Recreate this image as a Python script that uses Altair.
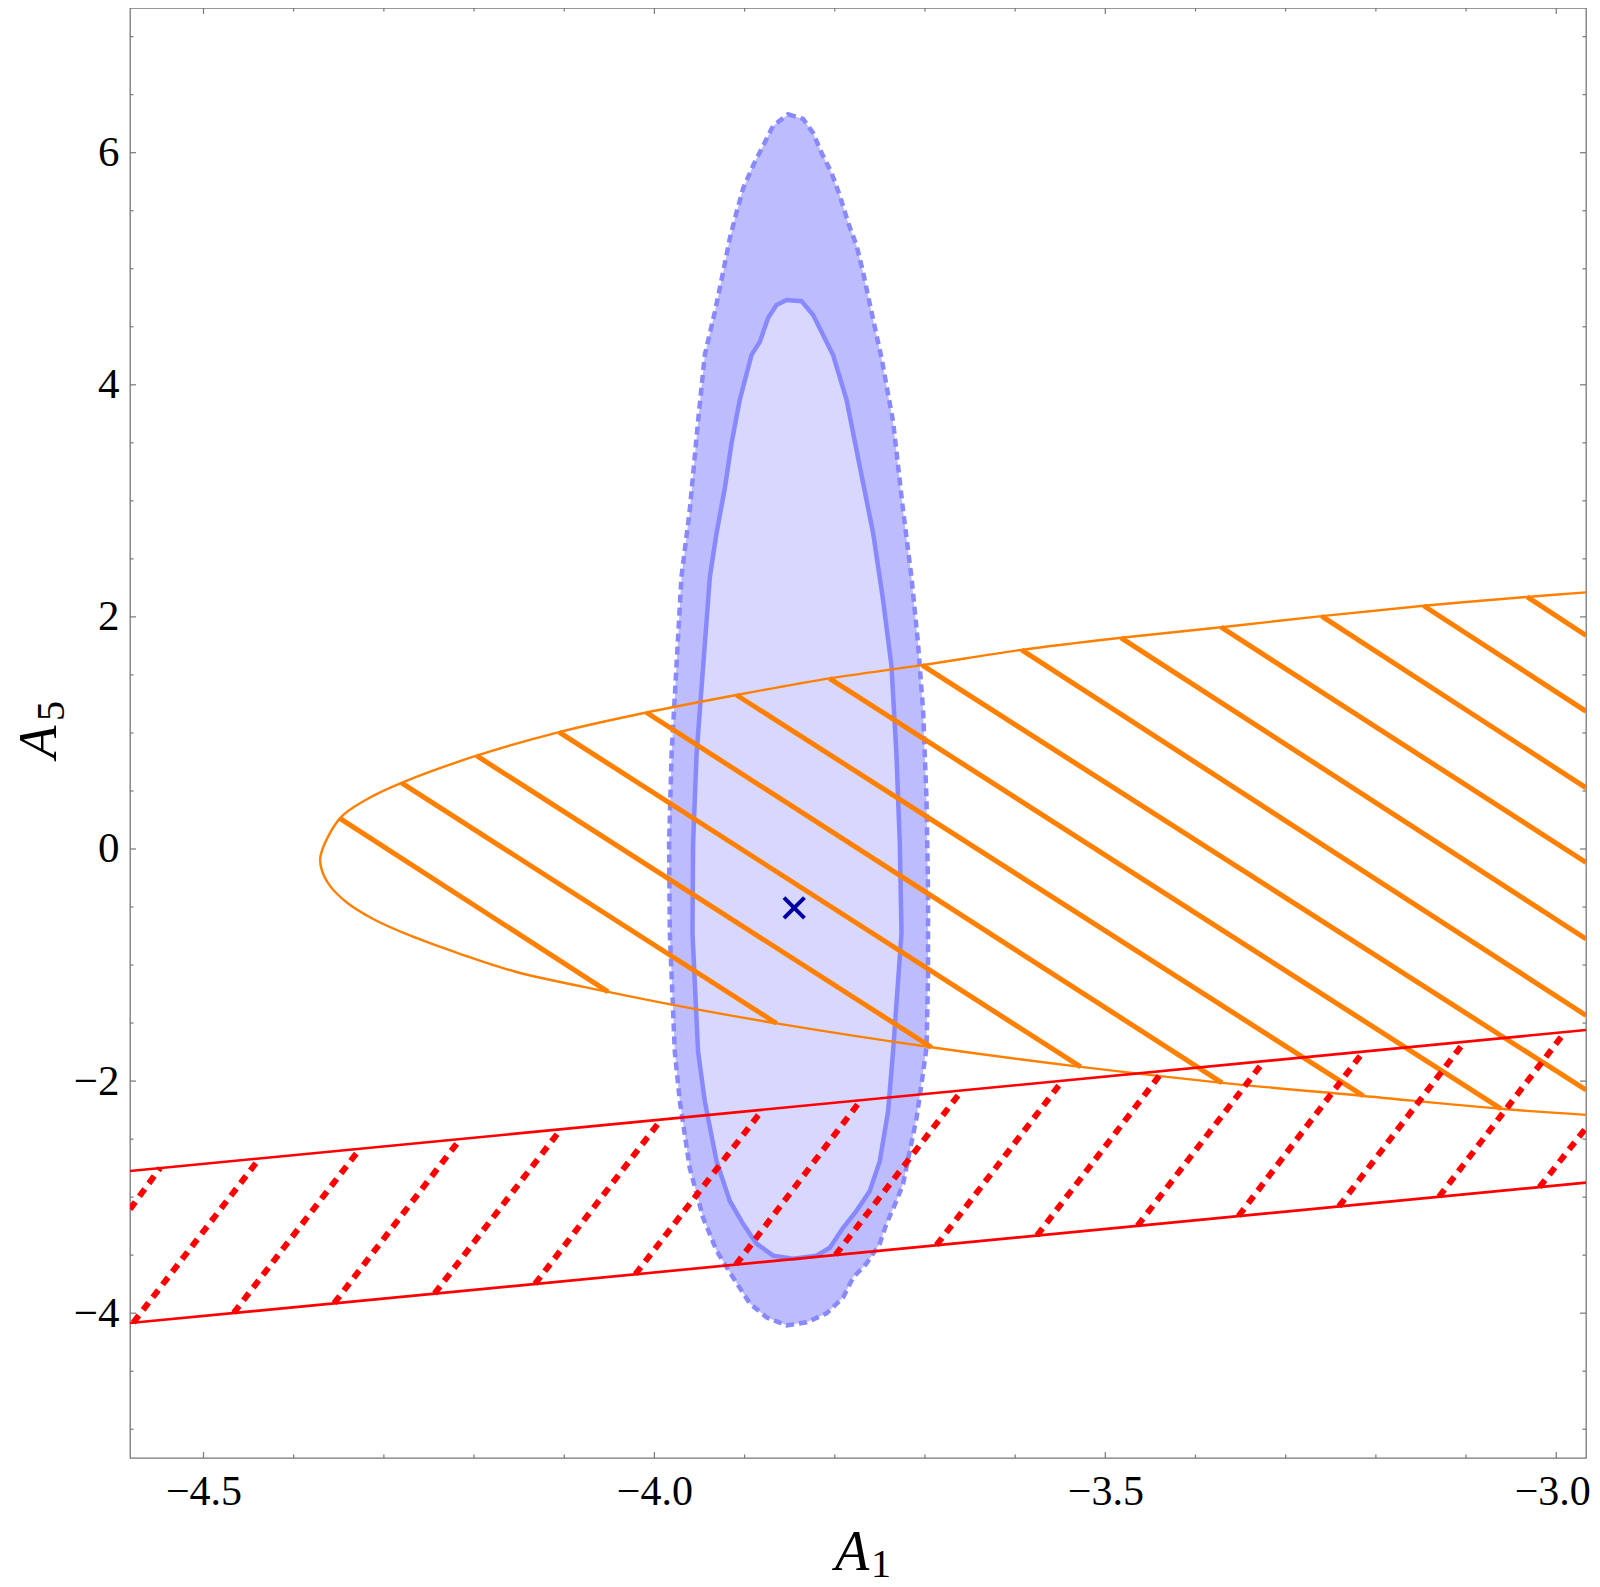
import altair as alt
import pandas as pd

# ---------------- data ----------------
X_MIN, X_MAX = -4.5815, -2.967
Y_MIN, Y_MAX = -5.248, 7.247

# outer (2 sigma) blue region, clockwise from the top
outer_x = [-3.8518, -3.8351, -3.8241, -3.8147, -3.8037, -3.7944, -3.7853, -3.7759, -3.7686, -3.7593,
           -3.7482, -3.7354, -3.7243, -3.7150, -3.7077, -3.7021, -3.6983, -3.6966, -3.6966, -3.6983,
           -3.7039, -3.7094, -3.7169, -3.7243, -3.7316, -3.7427, -3.7501, -3.7649, -3.7797, -3.7908,
           -3.8092, -3.8314, -3.8536, -3.8757, -3.8942, -3.9128, -3.9311, -3.9460, -3.9608, -3.9718,
           -3.9774, -3.9829, -3.9837, -3.9810, -3.9755, -3.9700, -3.9608, -3.9516, -3.9441, -3.9330,
           -3.9238, -3.9164, -3.9090, -3.9017, -3.8906, -3.8795, -3.8684]
outer_y = [6.331, 6.291, 6.171, 5.999, 5.828, 5.630, 5.399, 5.201, 4.970, 4.627,
           4.232, 3.684, 2.920, 2.345, 1.771, 1.196, 0.433, -0.339, -1.102, -1.711,
           -2.029, -2.321, -2.604, -2.887, -3.032, -3.230, -3.401, -3.573, -3.693, -3.865,
           -4.002, -4.079, -4.105, -4.036, -3.916, -3.693, -3.461, -3.178, -2.749, -2.175,
           -1.746, -0.725, 0.047, 0.810, 1.582, 2.345, 2.920, 3.684, 4.258, 4.627,
           4.970, 5.261, 5.484, 5.690, 5.888, 6.059, 6.231]

# inner (1 sigma) blue region, clockwise from the top
inner_x = [-3.8535, -3.8369, -3.8240, -3.8092, -3.8019, -3.7870, -3.7723, -3.7575, -3.7465, -3.7371,
           -3.7316, -3.7279, -3.7260, -3.7354, -3.7409, -3.7501, -3.7612, -3.7759, -3.7908, -3.8055,
           -3.8203, -3.8462, -3.8684, -3.8868, -3.9017, -3.9164, -3.9311, -3.9441, -3.9516, -3.9578,
           -3.9571, -3.9533, -3.9478, -3.9422, -3.9385, -3.9311, -3.9219, -3.9145, -3.9053, -3.8923,
           -3.8831, -3.8740, -3.8646]
inner_y = [4.730, 4.721, 4.601, 4.370, 4.258, 3.872, 3.298, 2.723, 2.148, 1.574,
           0.810, 0.047, -0.725, -1.746, -2.261, -2.690, -2.947, -3.118, -3.264, -3.436,
           -3.504, -3.530, -3.504, -3.401, -3.230, -3.033, -2.690, -2.175, -1.746, -0.725,
           0.047, 0.810, 1.385, 1.959, 2.345, 2.723, 3.109, 3.495, 3.872, 4.258,
           4.370, 4.575, 4.687]

# orange boundary: upper branch right->left, nose, lower branch left->right
orange_x = [-2.9671, -3.0322, -3.1470, -3.2602, -3.3716, -3.4825, -3.5928, -3.7031, -3.8059, -3.9090,
            -4.0088, -4.1057, -4.1972, -4.2804, -4.3192, -4.3488, -4.3702, -4.3691, -4.3599, -4.3414,
            -4.3119, -4.2712, -4.2157, -4.1529, -4.0513, -3.9866, -3.8646, -3.6927, -3.5273, -3.3705,
            -3.2138, -3.0611, -2.9671]
orange_y = [2.211, 2.172, 2.096, 2.007, 1.911, 1.820, 1.716, 1.584, 1.470, 1.327,
            1.176, 1.007, 0.804, 0.570, 0.427, 0.264, -0.059, -0.174, -0.316, -0.459,
            -0.603, -0.745, -0.903, -1.060, -1.231, -1.332, -1.503, -1.709, -1.878, -2.015,
            -2.128, -2.239, -2.291]

# orange hatching segments
oh_x1 = [-4.3488, -4.2804, -4.1972, -4.1057, -4.0088, -3.9090, -3.8059, -3.7031, -3.5928, -3.4825,
         -3.3716, -3.2602, -3.1470, -3.0322]
oh_y1 = [0.264, 0.570, 0.804, 1.007, 1.176, 1.327, 1.470, 1.584, 1.716, 1.820,
         1.911, 2.007, 2.096, 2.172]
oh_x2 = [-4.0513, -3.8646, -3.6927, -3.5273, -3.3705, -3.2138, -3.0611, -2.967, -2.967, -2.967,
         -2.967, -2.967, -2.967, -2.967]
oh_y2 = [-1.231, -1.503, -1.709, -1.878, -2.015, -2.128, -2.239, -2.077, -1.434, -0.775,
         -0.116, 0.527, 1.186, 1.840]

# red band edges
red_edge_x1 = [X_MIN, X_MIN]
red_edge_y1 = [-2.775, -4.085]
red_edge_x2 = [X_MAX, X_MAX]
red_edge_y2 = [-1.560, -2.875]

# red dotted hatching segments
rh_x1 = [-4.5815, -4.5778, -4.4665, -4.3551, -4.2438, -4.1324, -4.0211, -3.9096, -3.7992, -3.6872,
         -3.5758, -3.4643, -3.3523, -3.2409, -3.1300, -3.0186]
rh_y1 = [-3.104, -4.081, -3.998, -3.914, -3.831, -3.748, -3.664, -3.581, -3.498, -3.414,
         -3.331, -3.247, -3.163, -3.080, -2.997, -2.914]
rh_x2 = [-4.5481, -4.4378, -4.3264, -4.2151, -4.1037, -3.9924, -3.8800, -3.7710, -3.6590, -3.5474,
         -3.4360, -3.3240, -3.2137, -3.1017, -2.9903, -2.967]
rh_y2 = [-2.749, -2.666, -2.582, -2.498, -2.415, -2.331, -2.246, -2.164, -2.080, -1.996,
         -1.912, -1.828, -1.745, -1.661, -1.577, -2.404]

# best fit point
best_x = [-3.845]
best_y = [-0.508]

# ticks
x_major = [-4.5, -4.0, -3.5, -3.0]
x_minor = [-4.4, -4.3, -4.2, -4.1, -3.9, -3.8, -3.7, -3.6, -3.4, -3.3, -3.2, -3.1]
y_major = [-4, -2, 0, 2, 4, 6]
y_minor = [-5, -4.5, -3.5, -3, -2.5, -1.5, -1, -0.5, 0.5, 1, 1.5, 2.5, 3, 3.5, 4.5, 5, 5.5, 6.5, 7]

# ---------------- chart ----------------
W, H = 1456, 1450
FONT = "Liberation Serif"
xs = alt.Scale(domain=[X_MIN, X_MAX], nice=False, zero=False)
ys = alt.Scale(domain=[Y_MIN, Y_MAX], nice=False, zero=False)
x_axis = alt.Axis(values=x_major, format=".1f", labelFont=FONT, labelFontSize=42, labelColor="black",
                  ticks=False, domain=False, grid=False, title=None, labelPadding=13,
                  labelOffset={"condition": {"test": "datum.value == -3", "value": -4}, "value": 0})
y_axis = alt.Axis(values=y_major, format="d", labelFont=FONT, labelFontSize=43, labelColor="black",
                  ticks=False, domain=False, grid=False, title=None, labelPadding=11)

def X(f="x"):
    return alt.X(f"{f}:Q", scale=xs, axis=x_axis)

def Y(f="y"):
    return alt.Y(f"{f}:Q", scale=ys, axis=y_axis)

outer_df = pd.DataFrame({"x": outer_x, "y": outer_y, "i": range(len(outer_x))})
inner_df = pd.DataFrame({"x": inner_x, "y": inner_y, "i": range(len(inner_x))})
orange_df = pd.DataFrame({"x": orange_x, "y": orange_y, "i": range(len(orange_x))})
oh_df = pd.DataFrame({"x": oh_x1, "y": oh_y1, "x2": oh_x2, "y2": oh_y2})
redge_df = pd.DataFrame({"x": red_edge_x1, "y": red_edge_y1, "x2": red_edge_x2, "y2": red_edge_y2})
rh_df = pd.DataFrame({"x": rh_x1, "y": rh_y1, "x2": rh_x2, "y2": rh_y2})
best_df = pd.DataFrame({"x": best_x, "y": best_y})

outer = alt.Chart(outer_df).mark_line(
    interpolate="linear-closed", fill="#bdbdfe", stroke="#8888ff", strokeWidth=4.5,
    strokeDash=[8, 5], clip=True
).encode(x=X(), y=Y(), order="i:Q")

inner = alt.Chart(inner_df).mark_line(
    interpolate="linear-closed", fill="#d8d8fe", stroke="#8888ff", strokeWidth=4.5, clip=True
).encode(x=X(), y=Y(), order="i:Q")

orange_line = alt.Chart(orange_df).mark_line(
    color="#ff8000", strokeWidth=2.4, interpolate="catmull-rom", clip=True
).encode(x=X(), y=Y(), order="i:Q")

orange_hatch = alt.Chart(oh_df).mark_rule(color="#ff8000", strokeWidth=5, clip=True).encode(
    x=X(), y=Y(), x2="x2:Q", y2="y2:Q")

red_edges = alt.Chart(redge_df).mark_rule(color="#ff0000", strokeWidth=2.6, clip=True).encode(
    x=X(), y=Y(), x2="x2:Q", y2="y2:Q")

red_hatch = alt.Chart(rh_df).mark_rule(color="#ff0000", strokeWidth=6, strokeDash=[9, 7],
                                       clip=True).encode(
    x=X(), y=Y(), x2="x2:Q", y2="y2:Q")

best = alt.Chart(best_df).mark_point(
    shape="M-1,-1L1,1M1,-1L-1,1", size=420, stroke="#0000a0", strokeWidth=4,
    filled=False, opacity=1
).encode(x=X(), y=Y())

TICK = "#777777"
xt_major = pd.DataFrame({"x": x_major})
xt_minor = pd.DataFrame({"x": x_minor})
yt_major = pd.DataFrame({"y": y_major})
yt_minor = pd.DataFrame({"y": y_minor})

ticks = []
for df, ln in ((xt_major, 6), (xt_minor, 3.5)):
    ticks.append(alt.Chart(df).mark_rule(color=TICK, strokeWidth=1.2).encode(
        x=X(), y=alt.value(H), y2=alt.value(H - ln)))
    ticks.append(alt.Chart(df).mark_rule(color=TICK, strokeWidth=1.2).encode(
        x=X(), y=alt.value(0), y2=alt.value(ln)))
for df, ln in ((yt_major, 6), (yt_minor, 3.5)):
    ticks.append(alt.Chart(df).mark_rule(color=TICK, strokeWidth=1.2).encode(
        y=Y(), x=alt.value(0), x2=alt.value(ln)))
    ticks.append(alt.Chart(df).mark_rule(color=TICK, strokeWidth=1.2).encode(
        y=Y(), x=alt.value(W), x2=alt.value(W - ln)))

title_df = pd.DataFrame({"t": ["A"]})
xt_A = alt.Chart(title_df).mark_text(font=FONT, fontSize=56, fontStyle="italic", color="black",
                                     align="center", baseline="alphabetic").encode(
    text="t:N", x=alt.value(722), y=alt.value(1562))
xt_1 = alt.Chart(pd.DataFrame({"t": ["1"]})).mark_text(font=FONT, fontSize=40, color="black",
                                                       align="left", baseline="alphabetic").encode(
    text="t:N", x=alt.value(741), y=alt.value(1569))
yt_A = alt.Chart(title_df).mark_text(font=FONT, fontSize=54, fontStyle="italic", color="black",
                                     align="center", baseline="alphabetic", angle=270).encode(
    text="t:N", x=alt.value(-74), y=alt.value(734))
yt_5 = alt.Chart(pd.DataFrame({"t": ["5"]})).mark_text(font=FONT, fontSize=40, color="black",
                                                       align="left", baseline="alphabetic",
                                                       angle=270).encode(
    text="t:N", x=alt.value(-66), y=alt.value(713))

chart = alt.layer(
    outer, inner, orange_line, orange_hatch, red_edges, red_hatch, best,
    *ticks, xt_A, xt_1, yt_A, yt_5
).properties(
    width=W, height=H,
    padding={"left": 122, "top": 0, "right": 6, "bottom": 129},
    autosize=alt.AutoSizeParams(type="none"),
).configure_view(stroke="#777777", strokeWidth=1.3)

chart.save("out.html", embed_options={"renderer": "svg", "actions": False})
